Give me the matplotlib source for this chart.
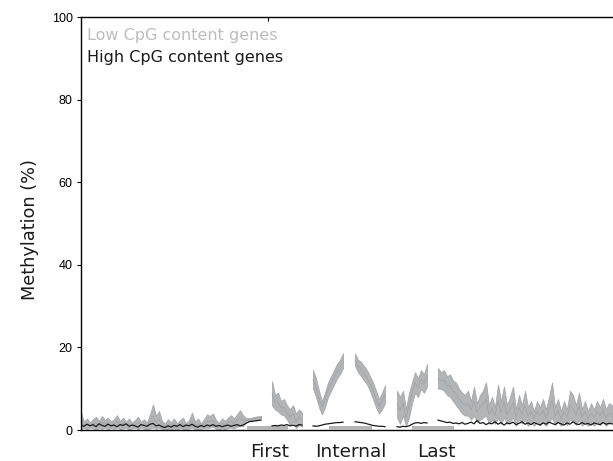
import numpy as np
import matplotlib.pyplot as plt

# x positions are bin indices along the metagene (step 3)
step = 3
seg_starts = [0, 191, 232, 274, 316, 357]

# low CpG genes: band upper / lower, high CpG genes: line
low_upper = [
    [4.2, 2.0, 2.8, 1.8, 2.6, 3.2, 2.2, 3.4, 2.4, 3.0,
     2.0, 2.6, 3.6, 2.2, 3.0, 2.0, 2.8, 1.8, 2.4, 3.2,
     2.0, 2.6, 1.8, 3.8, 6.2, 3.4, 4.6, 2.2, 1.6, 2.6,
     1.8, 2.8, 1.6, 2.4, 3.0, 1.6, 2.4, 4.2, 2.0, 2.8,
     1.6, 2.6, 3.8, 3.4, 4.0, 2.4, 1.8, 2.8, 2.2, 3.0,
     3.6, 2.8, 3.8, 4.8, 3.6, 2.9, 2.9, 3.0, 3.2, 3.3, 3.4],
    [11.8, 8.5, 9.0, 7.0, 7.5, 6.0, 5.0, 6.0, 4.0, 5.0, 4.2],
    [14.5, 12.5, 9.5, 7.0, 9.0, 11.5, 13.0, 14.5, 16.0, 17.0, 18.6],
    [18.5, 17.0, 16.5, 15.5, 14.5, 13.0, 11.5, 9.5, 7.5, 9.0, 10.8],
    [9.5, 8.0, 9.5, 5.0, 9.0, 11.5, 14.0, 12.5, 14.5, 13.5, 16.0],
    [15.0, 14.0, 14.5, 13.0, 13.5, 12.0, 11.5, 10.0, 9.0, 8.5,
     9.5, 7.0, 10.5, 6.5, 8.5, 9.5, 11.5, 6.0, 8.0, 5.5,
     11.0, 7.0, 10.5, 6.0, 8.0, 10.5, 5.0, 8.5, 6.0, 9.5,
     5.5, 7.0, 4.5, 7.0, 5.5, 7.5, 5.0, 8.0, 11.5, 5.5,
     7.5, 4.5, 7.0, 5.0, 9.5, 8.5, 6.0, 9.0, 5.0, 7.0,
     4.5, 6.5, 5.0, 7.0, 5.5, 7.5, 5.0, 6.5, 6.0],
]
low_lower = [
    [0.3, 0.5, 0.2, 0.6, 0.4, 0.0, 0.5, 0.3, 0.6, 0.2,
     0.5, 0.3, 0.6, 0.2, 0.4, 0.6, 0.1, 0.4, 0.5, 0.2,
     0.6, 0.3, 0.0, 0.4, 0.6, 0.3, 0.5, 0.2, 0.0, 0.3,
     0.1, 0.4, 0.0, 0.5, 0.3, 0.1, 0.4, 0.6, 0.2, 0.0,
     0.3, 0.5, 0.4, 0.6, 0.8, 0.3, 0.1, 0.4, 0.2, 0.5,
     0.6, 0.4, 0.8, 1.0, 0.9, 2.0, 2.2, 2.3, 2.5, 2.7, 2.8],
    [6.0, 5.0, 4.5, 3.8, 3.5, 2.5, 1.2, 2.0, 0.5, 1.2, 0.8],
    [10.0, 8.0, 5.5, 3.8, 5.5, 8.0, 9.5, 11.0, 12.5, 13.5, 15.0],
    [15.5, 14.0, 13.0, 12.0, 11.0, 9.5, 7.5, 5.5, 4.0, 5.0, 6.5],
    [3.0, 1.5, 3.5, 1.0, 3.0, 6.5, 9.0, 8.0, 10.0, 9.0, 10.5],
    [10.0, 10.0, 9.5, 8.5, 8.0, 7.0, 6.0, 5.0, 4.0, 3.5,
     3.5, 2.5, 3.5, 2.0, 2.5, 3.0, 3.5, 1.5, 2.5, 1.5,
     3.0, 1.5, 3.0, 1.5, 2.0, 3.0, 1.0, 2.5, 1.5, 2.5,
     1.0, 2.0, 1.0, 2.0, 1.2, 2.0, 1.0, 2.0, 3.0, 1.2,
     2.0, 1.0, 2.0, 1.2, 2.5, 2.0, 1.2, 2.5, 1.0, 2.0,
     1.0, 1.8, 1.0, 2.0, 1.2, 2.0, 1.0, 1.8, 1.5],
]
high_cpg = [
    [1.2, 0.9, 1.4, 1.0, 1.3, 0.8, 1.5, 1.1, 0.9, 1.4,
     1.0, 1.2, 0.8, 1.3, 1.1, 1.5, 0.9, 1.2, 1.0, 0.7,
     1.3, 1.1, 0.9, 1.4, 1.6, 1.0, 1.2, 0.8, 0.6, 1.0,
     0.7, 1.1, 0.9, 1.3, 0.8, 1.2, 1.0, 1.4, 0.9, 0.7,
     1.1, 0.8, 1.2, 1.0, 1.3, 0.9, 1.1, 0.8, 1.0, 1.2,
     0.9, 1.1, 1.3, 1.0, 1.2, 1.6, 2.0, 2.1, 2.2, 2.3, 2.4],
    [1.0, 1.1, 1.0, 1.2, 1.1, 1.3, 1.0, 1.2, 0.9, 1.3, 1.2],
    [1.0, 0.9, 1.0, 1.2, 1.4, 1.5, 1.6, 1.7, 1.8, 1.8, 1.9],
    [2.0, 1.9, 1.8, 1.7, 1.5, 1.3, 1.1, 1.0, 0.9, 0.9, 0.8],
    [0.8, 0.7, 0.9, 0.8, 1.0, 1.4, 1.7, 1.8, 1.6, 1.8, 1.7],
    [2.4, 2.2, 2.0, 1.8, 1.9, 1.6, 1.7, 1.5, 1.8, 1.4,
     1.6, 1.9, 1.5, 2.3, 1.6, 1.8, 1.3, 1.7, 1.5, 2.0,
     1.4, 1.8, 1.2, 1.7, 1.5, 1.9, 1.3, 1.6, 2.0, 1.4,
     1.7, 1.3, 1.8, 1.5, 1.2, 1.7, 1.4, 1.9, 1.6, 1.3,
     1.8, 1.5, 1.2, 1.7, 1.4, 2.0, 1.5, 1.3, 1.8, 1.4,
     1.6, 1.2, 1.7, 1.5, 1.3, 1.8, 1.4, 1.6, 1.5],
]

exon_names = ["First", "Internal", "Last"]
exon_start = [166, 248, 331]
exon_end = [207, 291, 373]
exon_label_x = [189, 270, 355]

yticks = [0, 20, 40, 60, 80, 100]

fig = plt.figure(figsize=(6.13, 4.61), dpi=100)
ax = fig.add_axes([81 / 613, 31 / 461, 532 / 613, 413 / 461])

band_col = "#b2b4b6"
for s, up, lo, hi in zip(seg_starts, low_upper, low_lower, high_cpg):
    x = s + step * np.arange(len(up))
    ax.fill_between(x, lo, up, color=band_col, lw=0.6, edgecolor="#a6a8aa", zorder=2)
    ax.plot(x, (np.array(up) + np.array(lo)) / 2, color="#a0a2a4", lw=0.5, zorder=2)
    ax.plot(x, hi, color="#1a1a1a", lw=0.9, zorder=4)

for s, e in zip(exon_start, exon_end):
    ax.bar(s, 1.0, width=e - s, bottom=0, align="edge", color="#b4b4b4", lw=0, zorder=3)

ax.set_xlim(0, 532)
ax.set_ylim(0, 100)
ax.set_yticks(yticks)
ax.set_yticklabels([str(t) for t in yticks], fontsize=9, family="Liberation Sans")
ax.tick_params(axis="y", direction="out", length=3, width=0.8, pad=3)
ax.set_xticks([187])
ax.tick_params(axis="x", bottom=False, top=True, labelbottom=False,
               direction="in", length=3, width=0.8)
ax.spines["right"].set_visible(False)
for sp in ["left", "bottom", "top"]:
    ax.spines[sp].set_linewidth(1.0)

for name, xc in zip(exon_names, exon_label_x):
    ax.text(xc, -0.053, name, transform=ax.get_xaxis_transform(),
            ha="center", va="center", fontsize=13.3, color="#1a1a1a")

ax.text(6 / 532, 0.955, "Low CpG content genes", transform=ax.transAxes,
        fontsize=11.5, color="#bdbdbd", va="center")
ax.text(6 / 532, 0.902, "High CpG content genes", transform=ax.transAxes,
        fontsize=11.5, color="#1a1a1a", va="center")

fig.text(30 / 613, 1 - 230 / 461, "Methylation (%)", rotation=90,
         ha="center", va="center", fontsize=12.8, color="#1a1a1a")

fig.savefig("out.png", dpi=100)
